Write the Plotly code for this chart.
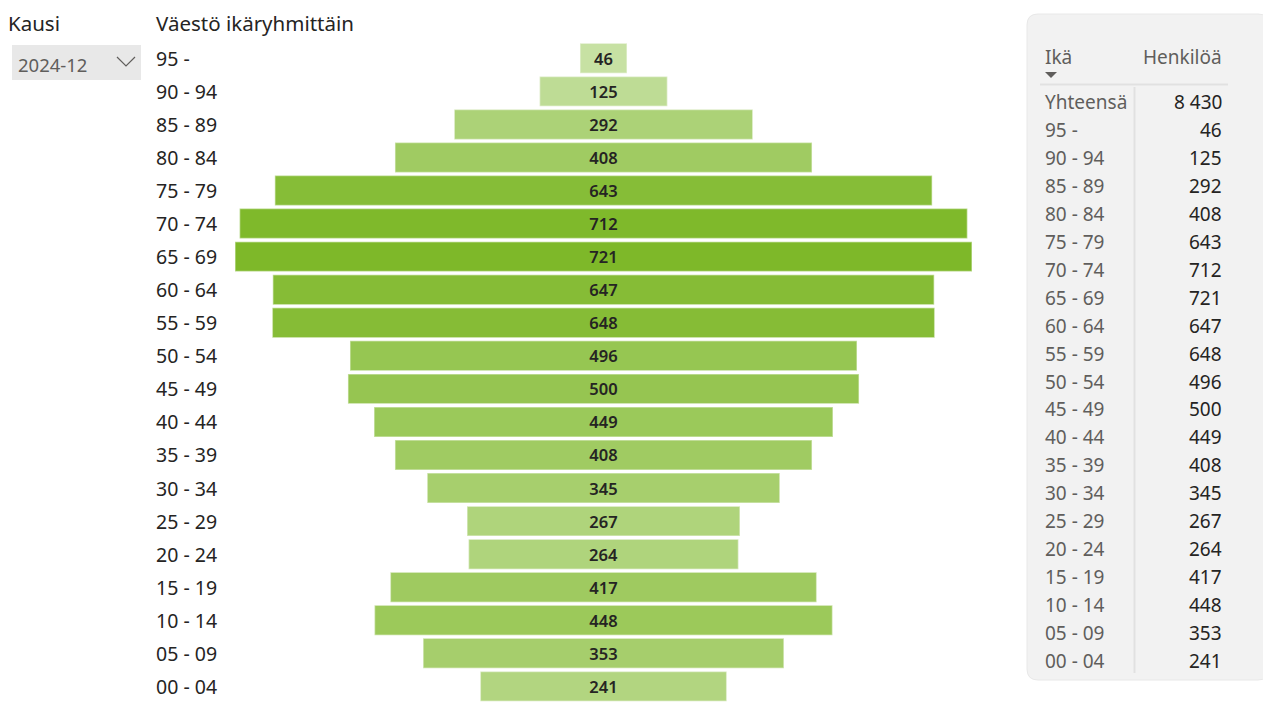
import plotly.graph_objects as go

# ---- data ----
ages = ["95 -", "90 - 94", "85 - 89", "80 - 84", "75 - 79", "70 - 74", "65 - 69",
        "60 - 64", "55 - 59", "50 - 54", "45 - 49", "40 - 44", "35 - 39", "30 - 34",
        "25 - 29", "20 - 24", "15 - 19", "10 - 14", "05 - 09", "00 - 04"]
persons = [46, 125, 292, 408, 643, 712, 721, 647, 648, 496, 500, 449, 408, 345,
           267, 264, 417, 448, 353, 241]
title_text = "Väestö ikäryhmittäin"
slicer_title = "Kausi"
slicer_value = "2024-12"
table_headers = ["Ikä", "Henkilöä"]
total_label = "Yhteensä"

W, H = 1271, 726
OX, OY = 8, 8  # page body offset
FONT = "Segoe UI, Noto Sans, sans-serif"
DARK = "#252423"
GRAY = "#605E5C"

def px(x):
    return (x - OX) / W

def py(y):
    return (H - (y - OY)) / H

fig = go.Figure()

# funnel bars (centered)
fig.add_trace(go.Bar(
    y=ages, x=persons, base=[-v / 2 for v in persons], orientation="h",
    marker=dict(color=persons, colorscale=[[0, "#C7E1A3"], [1, "#7EB829"]],
                cmin=min(persons), cmax=max(persons),
                line=dict(color="rgba(255,255,255,0.45)", width=1.5)),
    text=[str(v) for v in persons], textposition="inside", insidetextanchor="middle",
    textangle=0, constraintext="none",
    insidetextfont=dict(family=FONT, size=16.5, color=DARK, weight=600),
    hoverinfo="skip", showlegend=False,
))

table_rows = [total_label] + ages
table_vals = [f"{sum(persons):,}".replace(",", " ")] + [str(v) for v in persons]
row_idx = list(range(len(table_rows)))
fig.add_trace(go.Scatter(x=[1045] * len(row_idx), y=row_idx, xaxis="x2", yaxis="y2",
                         mode="markers", marker=dict(size=1, opacity=0),
                         hoverinfo="skip", showlegend=False))

top_c, bot_c = 58.3, 686.4
step = (bot_c - top_c) / (len(ages) - 1)
fig.update_layout(
    width=W, height=H,
    margin=dict(l=0, r=0, t=0, b=0),
    paper_bgcolor="white", plot_bgcolor="rgba(0,0,0,0)",
    bargap=0.094,
    xaxis=dict(visible=False, range=[(230 - 603.5) / 1.0222, (977 - 603.5) / 1.0222],
               domain=[px(230), px(977)], fixedrange=True),
    yaxis=dict(visible=False, type="category", range=[len(ages) - 0.5, -0.5],
               domain=[py(bot_c + step / 2), py(top_c - step / 2)], fixedrange=True),
    xaxis2=dict(visible=False, range=[1027, 1269], domain=[px(1027), px(1269)],
                anchor="y2", fixedrange=True),
    yaxis2=dict(visible=False, range=[20.5, -0.5], domain=[py(675), py(88)],
                anchor="x2", fixedrange=True),
    font=dict(family=FONT, color=DARK),
)

ann = []
ann.append(dict(text=title_text, x=px(155), y=py(8.5), xref="paper", yref="paper",
                xanchor="left", yanchor="top", showarrow=False, borderpad=0,
                font=dict(size=20.5, color=DARK, family=FONT)))
ann.append(dict(text=slicer_title, x=px(7), y=py(8.5), xref="paper", yref="paper",
                xanchor="left", yanchor="top", showarrow=False, borderpad=0,
                font=dict(size=20.5, color=DARK, family=FONT)))
ann.append(dict(text=slicer_value, x=px(16), y=py(64), xref="paper", yref="paper",
                xanchor="left", yanchor="middle", showarrow=False,
                font=dict(size=18.5, color=GRAY, family=FONT)))
for a in ages:
    ann.append(dict(text=a, x=px(154), y=a, xref="paper", yref="y",
                    xanchor="left", yanchor="middle", showarrow=False,
                    font=dict(size=19.5, color=DARK, family=FONT)))
ann.append(dict(text=table_headers[0], x=1043, y=py(57), xref="x2", yref="paper",
                xanchor="left", yanchor="middle", showarrow=False,
                font=dict(size=19, color=GRAY, family=FONT)))
ann.append(dict(text=table_headers[1], x=1224, y=py(57), xref="x2", yref="paper",
                xanchor="right", yanchor="middle", showarrow=False,
                font=dict(size=19, color=GRAY, family=FONT)))
for i, (lab, val) in enumerate(zip(table_rows, table_vals)):
    ann.append(dict(text=lab, x=1043, y=i, xref="x2", yref="y2",
                    xanchor="left", yanchor="middle", showarrow=False,
                    font=dict(size=19, color=GRAY, family=FONT)))
    ann.append(dict(text=val, x=1224, y=i, xref="x2", yref="y2",
                    xanchor="right", yanchor="middle", showarrow=False,
                    font=dict(size=19, color=DARK, family=FONT)))
fig.update_layout(annotations=ann)

def rounded_rect(x0, y0, x1, y1, r):
    rx, ry = r / W, r / H
    X0, X1 = px(x0), px(x1)
    Y0, Y1 = py(y0), py(y1)
    return (f"M {X0+rx},{Y0} L {X1-rx},{Y0} Q {X1},{Y0} {X1},{Y0-ry} "
            f"L {X1},{Y1+ry} Q {X1},{Y1} {X1-rx},{Y1} L {X0+rx},{Y1} "
            f"Q {X0},{Y1} {X0},{Y1+ry} L {X0},{Y0-ry} Q {X0},{Y0} {X0+rx},{Y0} Z")

shapes = [
    dict(type="path", xref="paper", yref="paper", path=rounded_rect(1027, 14, 1269, 680, 11),
         fillcolor="#F2F2F2", line=dict(color="#E8E8E8", width=1), layer="below"),
    dict(type="line", xref="paper", yref="paper", x0=px(1040), x1=px(1228),
         y0=py(84.5), y1=py(84.5), line=dict(color="#E1E1E1", width=2)),
    dict(type="line", xref="paper", yref="paper", x0=px(1134.5), x1=px(1134.5),
         y0=py(87), y1=py(673), line=dict(color="#E1E1E1", width=2)),
    dict(type="path", xref="paper", yref="paper",
         path=f"M {px(1045)},{py(72)} L {px(1057)},{py(72)} L {px(1051)},{py(78)} Z",
         fillcolor="#605E5C", line=dict(width=0)),
    dict(type="rect", xref="paper", yref="paper", x0=px(12), x1=px(141), y0=py(45), y1=py(80),
         fillcolor="#E8E8E8", line=dict(width=0), layer="below"),
    dict(type="path", xref="paper", yref="paper",
         path=f"M {px(117)},{py(57)} L {px(126)},{py(66)} L {px(135)},{py(57)}",
         line=dict(color="#605E5C", width=1.2)),
]
fig.update_layout(shapes=shapes)

fig.write_html("out.html")
